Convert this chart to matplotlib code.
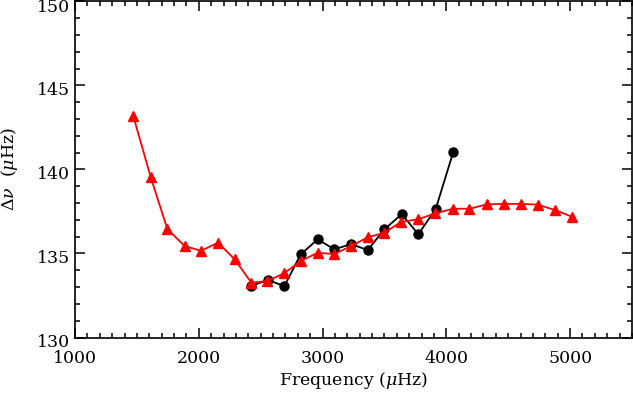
import matplotlib
matplotlib.use("Agg")
import matplotlib.pyplot as plt
from matplotlib.ticker import MultipleLocator
from matplotlib.transforms import ScaledTranslation

# Red triangles (model)
red_freq = [1471, 1611, 1746, 1886, 2018, 2156, 2290, 2425, 2554, 2689, 2824,
            2961, 3095, 3230, 3365, 3497, 3634, 3769, 3911, 4052, 4186, 4327,
            4464, 4602, 4739, 4879, 5016]
red_dnu = [143.17, 139.56, 136.45, 135.44, 135.16, 135.64, 134.65, 133.26, 133.36,
           133.82, 134.55, 135.04, 134.96, 135.44, 135.96, 136.23, 136.87, 137.03,
           137.38, 137.66, 137.66, 137.92, 137.95, 137.95, 137.90, 137.58, 137.18]

# Black circles (observed)
blk_freq = [2422, 2557, 2691, 2824, 2961, 3095, 3230, 3365, 3499, 3640, 3774, 3915, 4055]
blk_dnu = [133.06, 133.42, 133.06, 134.95, 135.84, 135.24, 135.56, 135.20, 136.43,
           137.34, 136.14, 137.66, 141.01]

plt.rcParams['font.family'] = ['DejaVu Serif']
plt.rcParams['mathtext.fontset'] = 'dejavuserif'

fig = plt.figure(figsize=(6.33, 3.95), dpi=100)
ax = fig.add_axes([75/633, 1-337.5/395, (632-75)/633, (337.5-1.3)/395])

ax.plot(blk_freq, blk_dnu, color='black', lw=1.3, marker='o', ms=6.5, zorder=3)
ax.plot(red_freq, red_dnu, color='red', lw=1.3, marker='^', ms=7, zorder=4)

ax.set_xlim(1000, 5500)
ax.set_ylim(130, 150)
ax.xaxis.set_major_locator(MultipleLocator(1000))
ax.xaxis.set_minor_locator(MultipleLocator(100))
ax.yaxis.set_major_locator(MultipleLocator(5))
ax.yaxis.set_minor_locator(MultipleLocator(1))
ax.tick_params(which='both', direction='in', top=True, right=True, width=1.1,
               labelsize=12.5)
ax.tick_params(which='major', length=7)
ax.tick_params(which='minor', length=3.5)
ax.tick_params(axis='x', which='major', pad=9)
for sp in ax.spines.values():
    sp.set_linewidth(1.2)

ax.set_xlabel(r'Frequency ($\mu$Hz)', fontsize=12.5, labelpad=2)
ax.set_ylabel(r'$\Delta\nu$  ($\mu$Hz)', fontsize=12.5, labelpad=12)

fig.canvas.draw()
off = ScaledTranslation(0, -3/100, fig.dpi_scale_trans)
for lab in ax.get_yticklabels():
    lab.set_transform(lab.get_transform() + off)
    if lab.get_text() == '150':
        lab.set_va('top')
        lab.set_transform(lab.get_transform() + ScaledTranslation(0, 5/100, fig.dpi_scale_trans))

fig.savefig('out.png', dpi=100)
